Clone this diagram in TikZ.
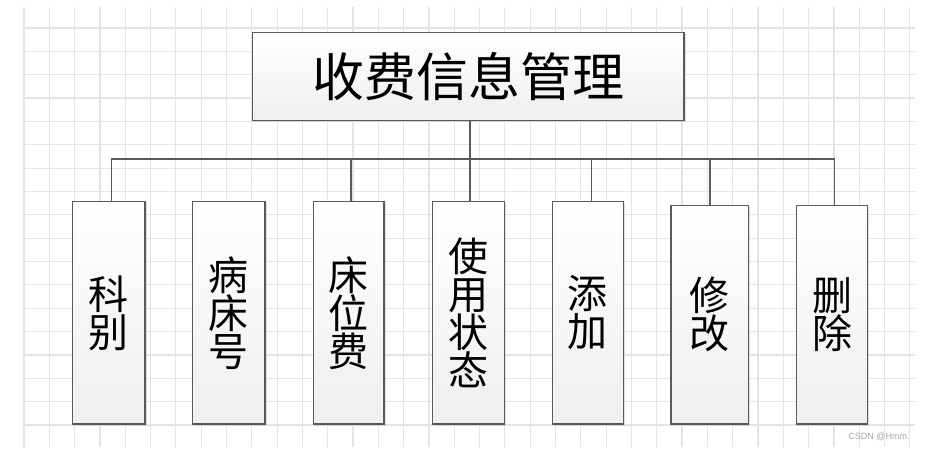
\documentclass[tikz,border=0pt]{standalone}
\usepackage{fontspec}
\usepackage{tikz}
\usetikzlibrary{shadows}
\newfontfamily\cjk{Noto Sans CJK SC}
\newfontfamily\wmfont{Liberation Sans}
\definecolor{gridgray}{HTML}{E4E4E4}
\definecolor{edgegray}{HTML}{5A5A5A}
\tikzset{gridline/.style={draw=gridgray, line width=1.2pt},
 box/.style={draw=edgegray, line width=1.3pt, top color=white, bottom color=gray!13,
  drop shadow={shadow xshift=1.5pt, shadow yshift=-1.5pt, fill=gray!50, opacity=.5},
  align=center, inner sep=0pt, font=\cjk\fontsize{40}{38}\selectfont},
 titlebox/.style={box, font=\cjk\fontsize{52}{54}\selectfont},
 link/.style={draw=edgegray, line width=1.3pt},
 }

\begin{document}
\begin{tikzpicture}[x=1pt, y=-1pt]
        \useasboundingbox (0,0) rectangle (926,450);
        \foreach \i in {0,...,35} {
            \draw[gridline] ({24+25.31*\i}, 7) -- ({24+25.31*\i}, 447);
        }
        \foreach \j in {0,...,17} {
            \draw[gridline] (24, {28+23.35*\j}) -- (915, {28+23.35*\j});
        }
        \node[titlebox, minimum width=431.7pt, minimum height=88pt] (shoufei) at (468.2, 76.7) {收费信息管理};
        \node[box, minimum width=72.3pt, minimum height=222.3pt] (kebie) at (108.9, 312.9) {科\\别};
        \node[box, minimum width=72.3pt, minimum height=222.3pt] (bingchuang) at (228.9, 312.9) {病\\床\\号};
        \node[box, minimum width=70.7pt, minimum height=222.3pt] (chuangwei) at (348.7, 312.9) {床\\位\\费};
        \node[box, minimum width=72pt, minimum height=222.3pt] (zhuangtai) at (468.3, 312.9) {使\\用\\状\\态};
        \node[box, minimum width=71pt, minimum height=222.3pt] (tianjia) at (587.8, 312.9) {添\\加};
        \node[box, minimum width=77.7pt, minimum height=218.7pt] (xiugai) at (709.9, 314.7) {修\\改};
        \node[box, minimum width=70.6pt, minimum height=218.7pt] (shanchu) at (832, 314.7) {删\\除};
        \coordinate (bus) at (470, 159);
        \draw[link] (shoufei.south -| bus) -- (bus);
        \draw[link] ([xshift=2.8pt]kebie.north) -- ([xshift=2.8pt]kebie.north |- bus)
            -- ([xshift=2.3pt]shanchu.north |- bus) -- ([xshift=2.3pt]shanchu.north);
        \draw[link] ([xshift=2.3pt]chuangwei.north) -- ([xshift=2.3pt]chuangwei.north |- bus);
        \draw[link] (zhuangtai.north -| bus) -- (bus);
        \draw[link] ([xshift=3.9pt]tianjia.north) -- ([xshift=3.9pt]tianjia.north |- bus);
        \draw[link] (xiugai.north) -- (xiugai.north |- bus);
        \node[text=gray!70, font=\wmfont\fontsize{9}{10}\selectfont] (csdn) at (879, 437) {CSDN @Hmm.};
    \end{tikzpicture}
\end{document}
